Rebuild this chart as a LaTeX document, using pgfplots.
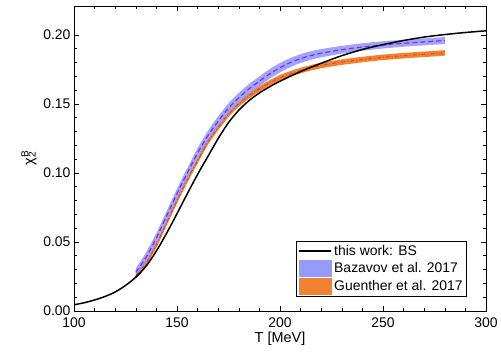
\documentclass[border=0pt]{standalone}
\usepackage{fontspec}
\setmainfont{Liberation Sans}
\usepackage{pgfplots}
\pgfplotsset{compat=1.18}
\usepgfplotslibrary{fillbetween}
\usepackage{pgfplotstable}

\definecolor{bband}{RGB}{150,155,250}
\definecolor{bline}{RGB}{125,45,235}
\definecolor{oband}{RGB}{240,130,50}
\definecolor{oline}{RGB}{225,75,25}

\pgfplotstableread{
T lo c hi
130 0.0250 0.0280 0.0310
135 0.0355 0.0390 0.0425
140 0.0495 0.0530 0.0565
145 0.0655 0.0690 0.0725
150 0.0815 0.0850 0.0885
155 0.0965 0.1000 0.1035
160 0.1110 0.1145 0.1180
165 0.1235 0.1270 0.1305
170 0.1340 0.1375 0.1410
175 0.1435 0.1470 0.1505
180 0.1510 0.1545 0.1580
185 0.1575 0.1610 0.1645
190 0.1630 0.1665 0.1700
195 0.1683 0.1718 0.1753
200 0.1729 0.1763 0.1797
205 0.1767 0.1800 0.1833
210 0.1797 0.1829 0.1861
215 0.1820 0.1851 0.1882
220 0.1838 0.1868 0.1898
230 0.1865 0.1893 0.1921
240 0.1886 0.1913 0.1940
250 0.1902 0.1928 0.1954
260 0.1915 0.1940 0.1965
270 0.1925 0.1950 0.1975
280 0.1935 0.1960 0.1985
}\bazavov

\pgfplotstableread{
T lo c hi
130 0.0235 0.0255 0.0275
135 0.0330 0.0350 0.0370
140 0.0460 0.0480 0.0500
145 0.0620 0.0640 0.0660
150 0.0780 0.0800 0.0820
155 0.0930 0.0950 0.0970
160 0.1070 0.1090 0.1110
165 0.1205 0.1225 0.1245
170 0.1310 0.1330 0.1350
175 0.1405 0.1425 0.1445
180 0.1480 0.1500 0.1520
185 0.1540 0.1560 0.1580
190 0.1590 0.1610 0.1630
195 0.1633 0.1653 0.1673
200 0.1670 0.1690 0.1710
205 0.1698 0.1718 0.1738
210 0.1722 0.1742 0.1762
215 0.1742 0.1762 0.1782
220 0.1759 0.1779 0.1799
230 0.1783 0.1803 0.1823
240 0.1802 0.1822 0.1842
250 0.1818 0.1838 0.1858
260 0.1830 0.1850 0.1870
270 0.1840 0.1860 0.1880
280 0.1850 0.1870 0.1890
}\guenther

\pgfplotstableread{
T c
100 0.0045
105 0.0060
110 0.0080
115 0.0105
120 0.0138
125 0.0185
130 0.0245
135 0.0325
140 0.0435
145 0.0565
150 0.0705
155 0.0850
160 0.0990
165 0.1120
170 0.1250
175 0.1365
180 0.1455
185 0.1525
190 0.1580
195 0.1625
200 0.1665
210 0.1735
220 0.1795
230 0.1850
240 0.1895
250 0.1930
260 0.1960
270 0.1985
280 0.2003
290 0.2018
300 0.2030
}\bs

\begin{document}
\begin{tikzpicture}
\begin{axis}[
  scale only axis, width=412bp, height=305bp,
  xmin=100, xmax=300, ymin=0, ymax=0.221,
  xtick={100,150,200,250,300},
  ytick={0,0.05,0.1,0.15,0.2},
  minor x tick num=4, minor y tick num=4,
  tick align=inside,
  major tick length=5bp, minor tick length=3bp,
  axis line style={line width=0.8pt},
  every tick/.style={black, line width=0.6pt},
  /pgf/number format/assume math mode=true,
  yticklabel style={/pgf/number format/.cd, fixed, fixed zerofill, precision=2},
  xticklabel style={yshift=-3bp},
  tick label style={font=\fontsize{14}{16}\selectfont},
  label style={font=\fontsize{14.5}{17}\selectfont},
  xlabel={T [MeV]},
  xlabel style={yshift=2bp},
  ylabel={χ\rlap{\textsuperscript{B}}\textsubscript{2}},
  legend style={at={(0.954,0.046)}, anchor=south east, draw=black, line width=0.8pt,
    font=\fontsize{14}{16}\selectfont, row sep=1bp, inner sep=2bp},
  legend cell align=left,
]
\coordinate (bl) at (rel axis cs:0,0);
\coordinate (tr) at (rel axis cs:1,1);

\addplot[name path=oup, draw=none, smooth, forget plot] table[x=T, y=hi] {\guenther};
\addplot[name path=olo, draw=none, smooth, forget plot] table[x=T, y=lo] {\guenther};
\addplot[oband, forget plot] fill between[of=oup and olo];
\addplot[oline, line width=1pt, dash pattern=on 4pt off 2pt on 1pt off 2pt, smooth, forget plot] table[x=T, y=c] {\guenther};

\addplot[name path=bup, draw=none, smooth, forget plot] table[x=T, y=hi] {\bazavov};
\addplot[name path=blo, draw=none, smooth, forget plot] table[x=T, y=lo] {\bazavov};
\addplot[bband, fill opacity=0.9, forget plot] fill between[of=bup and blo];
\addplot[bline, line width=1.2pt, dash pattern=on 5pt off 3pt, smooth, forget plot] table[x=T, y=c] {\bazavov};

\addplot[black, line width=1.5pt, smooth, forget plot] table[x=T, y=c] {\bs};

\addlegendimage{legend image code/.code={\draw[black, line width=1.5pt] (0bp,0bp) -- (32bp,0bp);}}
\addlegendentry{this work: BS}
\addlegendimage{legend image code/.code={\fill[bband] (0bp,-8bp) rectangle (32bp,8bp);}}
\addlegendentry{Bazavov et al. 2017}
\addlegendimage{legend image code/.code={\fill[oband] (0bp,-8bp) rectangle (32bp,8bp);}}
\addlegendentry{Guenther et al. 2017}
\end{axis}
\pgfresetboundingbox
\path[use as bounding box] ([shift={(-74bp,-52bp)}]bl) rectangle ([shift={(15bp,6bp)}]tr);
\end{tikzpicture}
\end{document}
